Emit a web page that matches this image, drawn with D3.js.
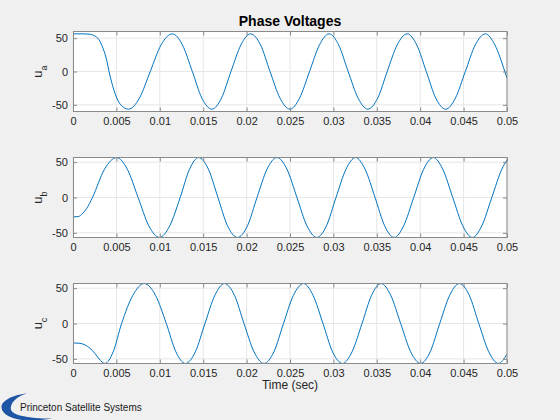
<!DOCTYPE html>
<html>
<head>
<meta charset="utf-8">
<script src="https://cdn.jsdelivr.net/npm/d3@7"></script>
<style>
    body { margin: 0; background: #f0f0f0; }
    svg { display: block; font-family: "Liberation Sans", Arial, Helvetica, sans-serif; }
</style>
</head>
<body>
<script>
// Time samples in ms, voltages
const uaTime = [0, 1.0, 2.0, 2.4, 3.0, 3.45, 3.9, 4.15, 4.45, 4.9, 5.5, 6.4, 7.65, 8.9, 10.15, 11.45, 12.6, 13.75, 14.85, 16.0, 17.1, 18.2, 19.35, 20.45, 21.6, 22.7, 23.85, 25.0, 26.1, 27.25, 28.4, 29.5, 30.6, 31.7, 32.85, 33.95, 35.1, 36.2, 37.35, 38.5, 39.6, 40.7, 41.8, 42.94, 44.05, 45.2, 46.35, 47.5, 48.6, 49.75, 50];
const uaVolts = [56.5, 56.5, 55.8, 54, 47.5, 35, 16, 0, -16, -35, -50, -56.5, -40, 0, 40, 56.5, 40, 0, -40, -56.5, -40, 0, 40, 56.5, 40, 0, -40, -56.5, -40, 0, 40, 56.5, 40, 0, -40, -56.5, -40, 0, 40, 56.5, 40, 0, -40, -56.5, -40, 0, 40, 56.5, 40, 0, -9.8];

const ubTime = [0, 0.6, 1.15, 1.55, 2.24, 3.63, 5.02, 6.26, 7.5, 8.73, 9.96, 11.15, 12.35, 13.42, 14.48, 15.6, 16.7, 17.8, 18.95, 20.1, 21.2, 22.35, 23.5, 24.65, 25.8, 26.95, 28.1, 29.2, 30.3, 31.45, 32.55, 33.65, 34.8, 35.9, 37.0, 38.1, 39.25, 40.4, 41.5, 42.6, 43.75, 44.9, 46.0, 47.1, 48.25, 49.4, 50];
const ubVolts = [-27.5, -27, -22, -16, 0, 40, 56.5, 40, 0, -40, -56.5, -40, 0, 40, 56.5, 40, 0, -40, -56.5, -40, 0, 40, 56.5, 40, 0, -40, -56.5, -40, 0, 40, 56.5, 40, 0, -40, -56.5, -40, 0, 40, 56.5, 40, 0, -40, -56.5, -40, 0, 40, 53];

const ucTime = [0, 0.8, 1.4, 1.95, 2.5, 3.0, 3.35, 3.67, 4.63, 5.6, 6.9, 8.2, 9.5, 10.75, 11.85, 12.95, 14.1, 15.2, 16.35, 17.45, 18.6, 19.7, 20.85, 22.0, 23.15, 24.25, 25.4, 26.55, 27.65, 28.8, 29.9, 31.05, 32.15, 33.3, 34.4, 35.5, 36.6, 37.75, 38.9, 40.05, 41.15, 42.25, 43.4, 44.5, 45.65, 46.75, 47.9, 49.0, 50];
const ucVolts = [-27.5, -28, -30.5, -35, -42, -50, -54.5, -56.5, -40, 0, 40, 56.5, 40, 0, -40, -56.5, -40, 0, 40, 56.5, 40, 0, -40, -56.5, -40, 0, 40, 56.5, 40, 0, -40, -56.5, -40, 0, 40, 56.5, 40, 0, -40, -56.5, -40, 0, 40, 56.5, 40, 0, -40, -56.5, -43.3];

// Tick values and labels
const xTicks = [0, 0.005, 0.01, 0.015, 0.02, 0.025, 0.03, 0.035, 0.04, 0.045, 0.05];
const xTickLabels = ["0", "0.005", "0.01", "0.015", "0.02", "0.025", "0.03", "0.035", "0.04", "0.045", "0.05"];
const yTicks = [-50, 0, 50];
const yTickLabels = ["-50", "0", "50"];

const lineColor = '#0072bd';
const gridColor = '#e6e6e6';
const boxColor = '#8a8a8a';
const textColor = '#262626';

const axLeft = 73, axRight = 507, axHeight = 80;

const panels = [
    { sub: 'a', time: uaTime, volts: uaVolts, top: 31.5, yLim: [-60, 60] },
    { sub: 'b', time: ubTime, volts: ubVolts, top: 157.5, yLim: [-56.6, 56.6] },
    { sub: 'c', time: ucTime, volts: ucVolts, top: 283.5, yLim: [-56.6, 56.6] }
];

const svg = d3.select('body').append('svg')
    .attr('width', 560)
    .attr('height', 420);

const x = d3.scaleLinear().domain([0, 0.05]).range([axLeft, axRight]);

function styleAxis(g) {
    g.select('.domain').remove();
    g.selectAll('.tick line').attr('stroke', boxColor);
    g.selectAll('.tick text')
        .attr('fill', textColor)
        .attr('font-size', 11)
        .attr('font-family', '"Liberation Sans", Arial, Helvetica, sans-serif');
}

panels.forEach((p, i) => {
    const y = d3.scaleLinear().domain(p.yLim).range([p.top + axHeight, p.top]);
    const g = svg.append('g').attr('class', 'panel');

    g.append('rect')
        .attr('x', axLeft).attr('y', p.top)
        .attr('width', axRight - axLeft).attr('height', axHeight)
        .attr('fill', '#ffffff');

    // grid
    g.append('g').selectAll('line.vgrid')
        .data(xTicks)
        .join('line')
        .attr('x1', d => x(d)).attr('x2', d => x(d))
        .attr('y1', p.top).attr('y2', p.top + axHeight)
        .attr('stroke', gridColor)
        .attr('stroke-width', 1);
    g.append('g').selectAll('line.hgrid')
        .data(yTicks)
        .join('line')
        .attr('x1', axLeft).attr('x2', axRight)
        .attr('y1', d => y(d)).attr('y2', d => y(d))
        .attr('stroke', gridColor)
        .attr('stroke-width', 1);

    // clip + curve
    svg.append('clipPath').attr('id', `clip-${i}`)
        .append('rect')
        .attr('x', axLeft).attr('y', p.top - 1)
        .attr('width', axRight - axLeft).attr('height', axHeight + 2);

    const pts = p.time.map((t, k) => [t / 1000, p.volts[k]]);
    const line = d3.line()
        .x(d => x(d[0]))
        .y(d => y(d[1]))
        .curve(d3.curveMonotoneX);
    g.append('path')
        .datum(pts)
        .attr('d', line)
        .attr('fill', 'none')
        .attr('stroke', lineColor)
        .attr('stroke-width', 1)
        .attr('clip-path', `url(#clip-${i})`);

    // axes, ticks pointing inward
    g.append('g')
        .attr('transform', `translate(0,${p.top + axHeight})`)
        .call(d3.axisBottom(x).tickValues(xTicks).tickFormat((d, k) => xTickLabels[k])
            .tickSizeInner(-4).tickSizeOuter(0).tickPadding(6))
        .call(styleAxis);
    g.append('g')
        .attr('transform', `translate(0,${p.top})`)
        .call(d3.axisTop(x).tickValues(xTicks).tickFormat('')
            .tickSizeInner(-4).tickSizeOuter(0))
        .call(styleAxis);
    g.append('g')
        .attr('transform', `translate(${axLeft},0)`)
        .call(d3.axisLeft(y).tickValues(yTicks).tickFormat((d, k) => yTickLabels[k])
            .tickSizeInner(-4).tickSizeOuter(0).tickPadding(5))
        .call(styleAxis);
    g.append('g')
        .attr('transform', `translate(${axRight},0)`)
        .call(d3.axisRight(y).tickValues(yTicks).tickFormat('')
            .tickSizeInner(-4).tickSizeOuter(0))
        .call(styleAxis);

    g.append('rect')
        .attr('x', axLeft + 0.5).attr('y', p.top)
        .attr('width', axRight - axLeft - 0.5).attr('height', axHeight)
        .attr('fill', 'none')
        .attr('stroke', boxColor)
        .attr('stroke-width', 1);

    // y label: u with subscript
    const lab = g.append('text')
        .attr('transform', `translate(42,${p.top + axHeight / 2}) rotate(-90)`)
        .attr('text-anchor', 'middle')
        .attr('fill', textColor);
    lab.append('tspan').attr('font-size', 13).text('u');
    lab.append('tspan').attr('font-size', 9).attr('dy', 4.5).text(p.sub);
});

// title and x label
svg.append('text')
    .attr('x', (axLeft + axRight) / 2).attr('y', 26)
    .attr('text-anchor', 'middle')
    .attr('font-size', 14).attr('font-weight', 'bold')
    .attr('fill', '#000')
    .text('Phase Voltages');

svg.append('text')
    .attr('x', (axLeft + axRight) / 2).attr('y', 389)
    .attr('text-anchor', 'middle')
    .attr('font-size', 12)
    .attr('fill', textColor)
    .text('Time (sec)');

// logo
const logo = svg.append('g').attr('class', 'logo');
logo.append('path')
    .attr('d', 'M27,393.5 C12,395 1,401 1.5,407.5 C2,415 14,420.5 30,420.5 C38,420.5 46,419.5 52,418.5 ' +
        'C40,418.5 30,418 20,415.5 C12,413.5 10,410 11,406.5 C12,401 18,396 27,393.5 Z')
    .attr('fill', '#1f55a5');
logo.append('text')
    .attr('x', 20).attr('y', 410.5)
    .attr('font-size', 10)
    .attr('fill', '#1a1a1a')
    .text('Princeton Satellite Systems');
</script>
</body>
</html>
